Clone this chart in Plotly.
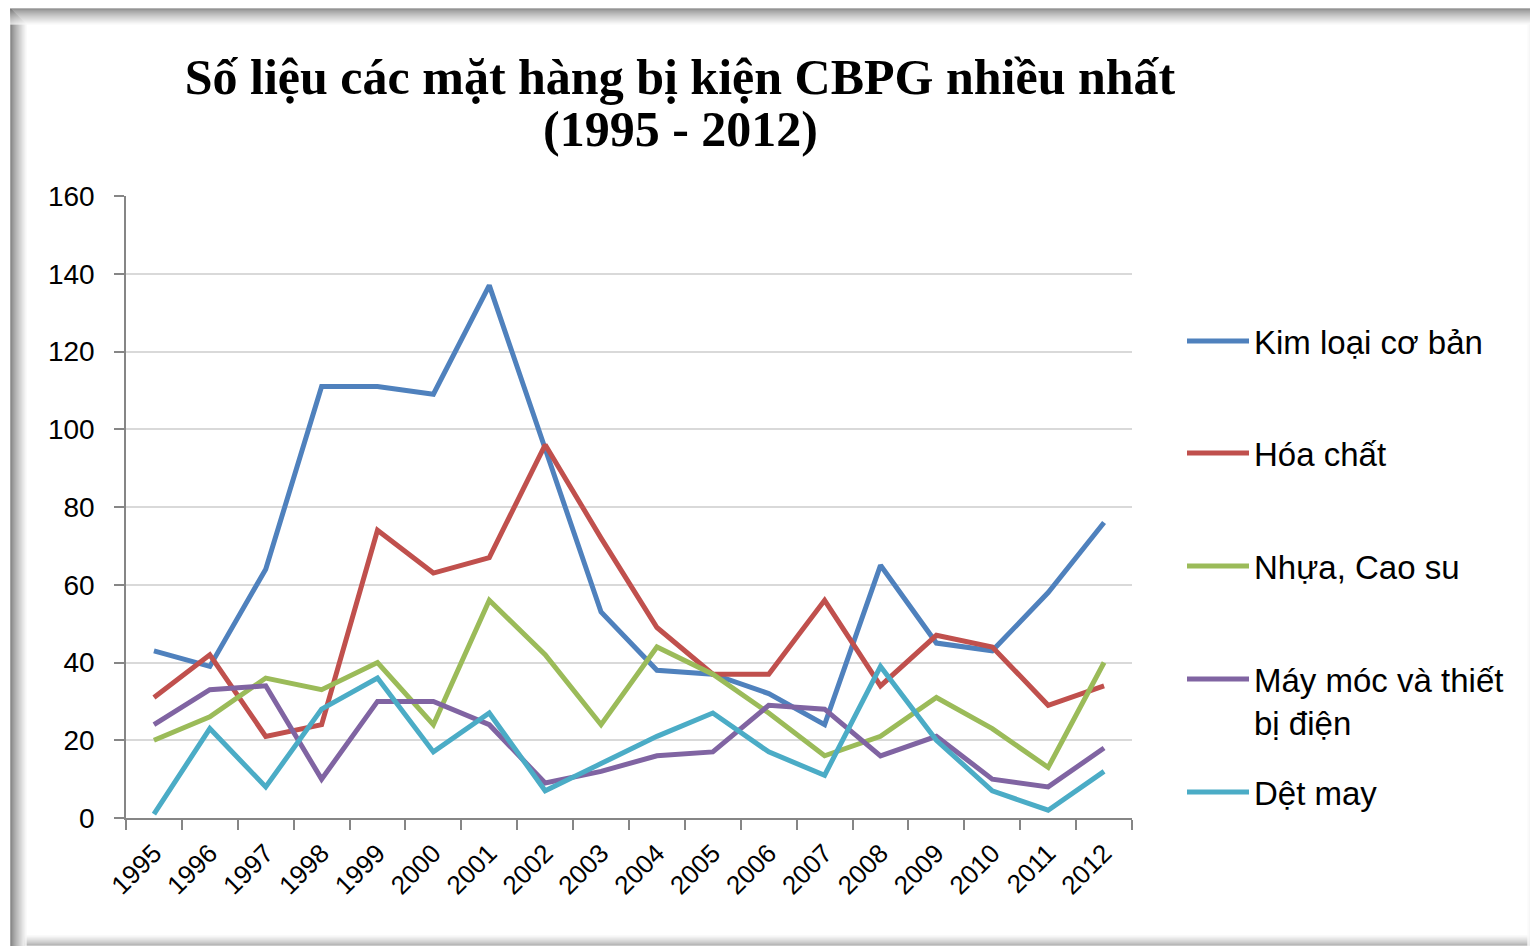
import plotly.graph_objects as go

years = [str(y) for y in range(1995, 2013)]

kim_loai = [43, 39, 64, 111, 111, 109, 137, 95, 53, 38, 37, 32, 24, 65, 45, 43, 58, 76]
hoa_chat = [31, 42, 21, 24, 74, 63, 67, 96, 72, 49, 37, 37, 56, 34, 47, 44, 29, 34]
nhua_cao_su = [20, 26, 36, 33, 40, 24, 56, 42, 24, 44, 37, 27, 16, 21, 31, 23, 13, 40]
may_moc = [24, 33, 34, 10, 30, 30, 24, 9, 12, 16, 17, 29, 28, 16, 21, 10, 8, 18]
det_may = [1, 23, 8, 28, 36, 17, 27, 7, 14, 21, 27, 17, 11, 39, 20, 7, 2, 12]

series_names = ["Kim loại cơ bản", "Hóa chất", "Nhựa, Cao su",
                "Máy móc và thiết<br>bị điện", "Dệt may"]
series_values = [kim_loai, hoa_chat, nhua_cao_su, may_moc, det_may]
colors = ["#4F81BD", "#C0504D", "#9BBB59", "#8064A2", "#4BACC6"]

OFF = 8  # page body margin
W, H = 1538 - OFF, 946 - OFF
# plot area in screen pixels
SL, SR, ST, SB = 126, 1132, 196, 818
L, R, T, B = SL - OFF, SR - OFF, ST - OFF, SB - OFF


def px_x(p):  # screen px -> paper
    return (p - OFF - L) / (R - L)


def px_y(p):
    return (B - (p - OFF)) / (B - T)


fig = go.Figure()
legend_names = ["legend", "legend2", "legend3", "legend4", "legend5"]
legend_ypix = [342, 454, 567, 680, 793]

for name, vals, col, lg in zip(series_names, series_values, colors, legend_names):
    fig.add_trace(go.Scatter(
        x=years, y=vals, mode="lines", name=name,
        line=dict(color=col, width=5),
        legend=lg,
    ))

legend_common = dict(
    font=dict(family="Liberation Sans, Arial", size=33, color="#000000"),
    bgcolor="rgba(0,0,0,0)", itemwidth=62, valign="top",
    xanchor="left", yanchor="top", tracegroupgap=0,
)
layout_legends = {}
for lg, yp in zip(legend_names, legend_ypix):
    layout_legends[lg] = dict(legend_common, x=px_x(1182), y=px_y(yp - 29))

# frame shading (border of the chart picture)
shapes = []
n = 16
for i in range(n):
    g = int(105 + (255 - 105) * (i / n) ** 0.8)
    c = f"rgb({g},{g},{g})"
    shapes.append(dict(type="line", xref="paper", yref="paper",
                       x0=px_x(10), x1=px_x(1538), y0=px_y(9 + i), y1=px_y(9 + i),
                       line=dict(color=c, width=1.2), layer="above"))
    shapes.append(dict(type="line", xref="paper", yref="paper",
                       x0=px_x(11 + i), x1=px_x(11 + i), y0=px_y(9 + i), y1=px_y(946),
                       line=dict(color=c, width=1.2), layer="above"))
for i in range(10):
    g = int(150 + (255 - 150) * (i / 10) ** 0.8)
    c = f"rgb({g},{g},{g})"
    shapes.append(dict(type="line", xref="paper", yref="paper",
                       x0=px_x(24), x1=px_x(1538), y0=px_y(945 - i), y1=px_y(945 - i),
                       line=dict(color=c, width=1.2), layer="below"))
    g2 = int(200 + (255 - 200) * (i / 10) ** 0.8)
    c2 = f"rgb({g2},{g2},{g2})"
    shapes.append(dict(type="line", xref="paper", yref="paper",
                       x0=px_x(1537 - i), x1=px_x(1537 - i), y0=px_y(24), y1=px_y(946),
                       line=dict(color=c2, width=1.2), layer="below"))

title_font = dict(family="Liberation Serif, Times New Roman", size=50, color="#000000")

fig.update_layout(
    width=W, height=H,
    margin=dict(l=L, r=W - R, t=T, b=H - B, autoexpand=False),
    paper_bgcolor="white", plot_bgcolor="white",
    title=dict(
        text="<b>Số liệu các mặt hàng bị kiện CBPG nhiều nhất</b>",
        x=(680 - OFF) / W, xanchor="center", y=1 - (76 - OFF) / H, yanchor="middle",
        font=title_font,
    ),
    annotations=[dict(
        text="<b>(1995 - 2012)</b>", xref="paper", yref="paper",
        x=px_x(680), y=px_y(129), xanchor="center", yanchor="middle",
        showarrow=False, font=title_font,
    )],
    xaxis=dict(
        type="category", tickson="boundaries", range=[-0.5, 17.5],
        ticks="outside", ticklen=10,
        tickcolor="#868686", tickwidth=1.5,
        showline=True, linecolor="#868686", linewidth=1.5,
        showgrid=False, tickangle=-45, ticklabelstandoff=8,
        tickfont=dict(family="Liberation Sans, Arial", size=26, color="#000000"),
    ),
    yaxis=dict(
        range=[0, 160], tickvals=[0, 20, 40, 60, 80, 100, 120, 140, 160],
        ticks="outside", ticklen=10, tickcolor="#868686", tickwidth=1.5,
        showline=True, linecolor="#868686", linewidth=1.5,
        showgrid=True, gridcolor="#D9D9D9", gridwidth=1.5,
        zeroline=False, ticklabelstandoff=14,
        tickfont=dict(family="Liberation Sans, Arial", size=28, color="#000000"),
    ),
    showlegend=True,
    shapes=shapes,
    **layout_legends,
)

fig.write_html("out.html")
